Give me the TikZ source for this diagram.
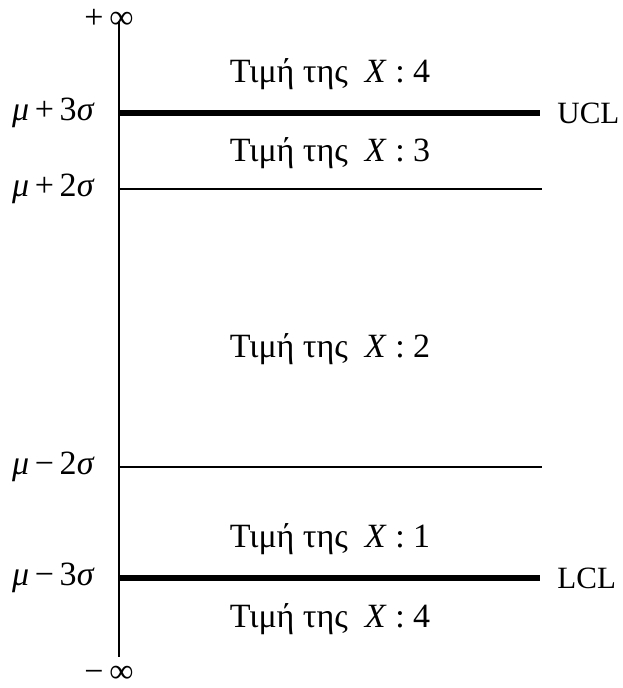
\documentclass[tikz,border=0pt]{standalone}
\usepackage{fontspec}
\setmainfont{Liberation Serif}
\usetikzlibrary{positioning}

\begin{document}
\begin{tikzpicture}[x=0.5pt, y=-0.5pt,
    every node/.style={font=\fontsize{17}{20}\selectfont, inner sep=0pt},
    level/.style={anchor=east},
    zone/.style={anchor=center},
    limit/.style={line width=2.6pt},
    band/.style={line width=0.9pt},
    tag/.style={anchor=west, font=\fontsize{15.5}{18}\selectfont}
  ]
    \useasboundingbox (0,0) rectangle (622,688);

    % vertical axis
    \coordinate (top) at (119,21);
    \coordinate (bot) at (119,657);
    \draw[line width=1pt] (top) -- (bot);
    \node (pinf) at (109,19) {+\,∞};
    \node (minf) at (109,674) {−\,∞};

    % limits and bands
    \coordinate (ucl-l) at (119,113);  \coordinate (ucl-r) at (540,113);
    \coordinate (up-l) at (119,189);   \coordinate (up-r) at (542,189);
    \coordinate (lo-l) at (119,467);   \coordinate (lo-r) at (542,467);
    \coordinate (lcl-l) at (119,578);  \coordinate (lcl-r) at (540,578);

    \draw[limit] (ucl-l) -- (ucl-r);
    \draw[band] (up-l) -- (up-r);
    \draw[band] (lo-l) -- (lo-r);
    \draw[limit] (lcl-l) -- (lcl-r);

    \node[tag, right=8.5pt of ucl-r] (ucl) {UCL};
    \node[tag, right=8.5pt of lcl-r] (lcl) {LCL};

    \node[level, left=12pt of ucl-l] (m3p) {\textit{μ}\,+\,3\textit{σ}};
    \node[level, left=12pt of up-l] (m2p) {\textit{μ}\,+\,2\textit{σ}};
    \node[level, left=12pt of lo-l] (m2m) {\textit{μ}\,−\,2\textit{σ}};
    \node[level, left=12pt of lcl-l] (m3m) {\textit{μ}\,−\,3\textit{σ}};

    % values of X in each zone
    \node[zone] (z4a) at (330,74) {Τιμή της\enspace\textit{X} : 4};
    \node[zone] (z3) at (330,153) {Τιμή της\enspace\textit{X} : 3};
    \node[zone] (z2) at (330,349) {Τιμή της\enspace\textit{X} : 2};
    \node[zone] (z1) at (330,539) {Τιμή της\enspace\textit{X} : 1};
    \node[zone] (z4b) at (330,619) {Τιμή της\enspace\textit{X} : 4};
\end{tikzpicture}
\end{document}
